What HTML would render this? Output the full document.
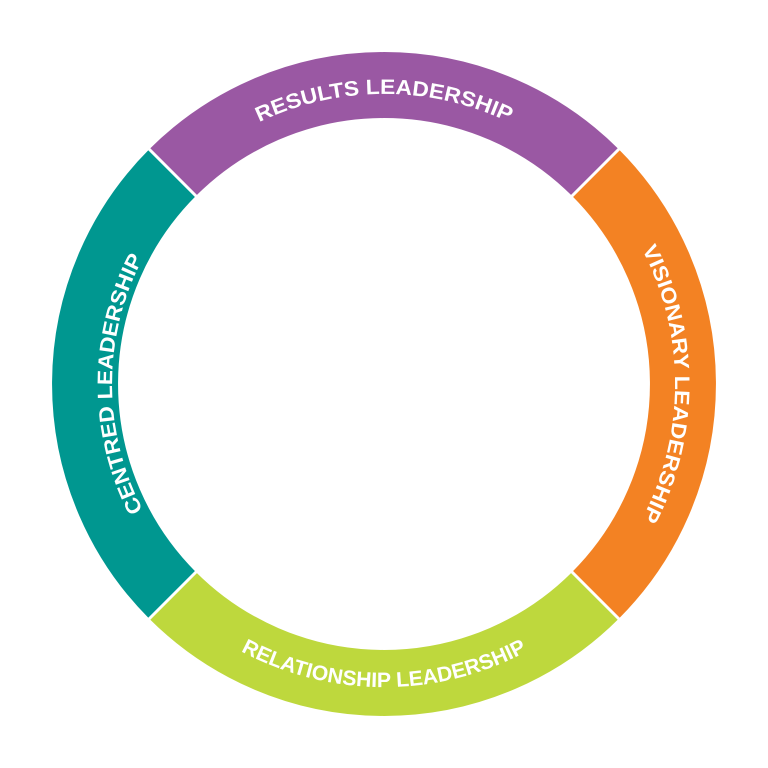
<!DOCTYPE html>
<html><head><style>html,body{margin:0;padding:0;background:#fff;}svg{display:block}</style></head>
<body>
<svg width="768" height="768" viewBox="0 0 768 768" xmlns="http://www.w3.org/2000/svg">
<defs>
<path id="pt" d="M178.9,178.9 A290,290 0 0 1 589.1,178.9"/>
<path id="pr" d="M589.8,178.2 A291,291 0 0 1 589.8,589.8"/>
<path id="pb" d="M169.7,598.3 A303,303 0 0 0 598.3,598.3"/>
<path id="pl" d="M191.7,576.3 A272,272 0 0 1 191.7,191.7"/>
</defs>
<g fill="none" stroke-width="66">
<path d="M172.6,172.6 A299,299 0 0 1 595.4,172.6" stroke="#9A58A3"/>
<path d="M595.4,172.6 A299,299 0 0 1 595.4,595.4" stroke="#F38223"/>
<path d="M595.4,595.4 A299,299 0 0 1 172.6,595.4" stroke="#BED83D"/>
<path d="M172.6,595.4 A299,299 0 0 1 172.6,172.6" stroke="#009790"/>
</g>
<g stroke="#fff" stroke-width="3">
<line x1="140" y1="140" x2="200" y2="200"/>
<line x1="628" y1="140" x2="568" y2="200"/>
<line x1="628" y1="628" x2="568" y2="568"/>
<line x1="140" y1="628" x2="200" y2="568"/>
</g>
<g fill="#fff" font-family="Liberation Sans, sans-serif" font-weight="bold" font-size="21">
<text><textPath href="#pt" startOffset="50%" text-anchor="middle" textLength="258" lengthAdjust="spacingAndGlyphs">RESULTS LEADERSHIP</textPath></text>
<text><textPath href="#pr" startOffset="50%" text-anchor="middle" textLength="280" lengthAdjust="spacingAndGlyphs">VISIONARY LEADERSHIP</textPath></text>
<text><textPath href="#pb" startOffset="50%" text-anchor="middle" textLength="298" lengthAdjust="spacingAndGlyphs">RELATIONSHIP LEADERSHIP</textPath></text>
<text><textPath href="#pl" startOffset="50%" text-anchor="middle" textLength="262" lengthAdjust="spacingAndGlyphs">CENTRED LEADERSHIP</textPath></text>
</g>
</svg>
</body></html>
